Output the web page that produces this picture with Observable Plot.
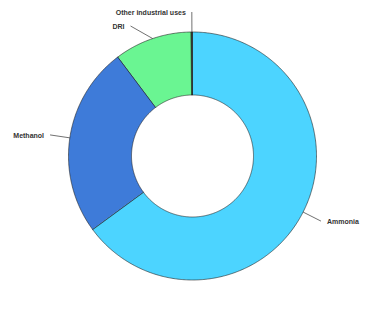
<!DOCTYPE html>
<html>
<head>
<meta charset="utf-8">
<script src="https://cdn.jsdelivr.net/npm/d3@7"></script>
<script src="https://cdn.jsdelivr.net/npm/@observablehq/plot@0.6"></script>
<style>
  html, body { margin: 0; padding: 0; background: #fff; }
  #chart { width: 376px; height: 314px; overflow: hidden; }
</style>
</head>
<body>
<div id="chart"></div>
<script>
// Data
const categories = ["Ammonia", "Methanol", "DRI", "Other industrial uses"];
const shares = [64.9, 24.8, 10.1, 0.15];
const colors = ["#4cd4ff", "#3e7bd9", "#6af592", "#1a1a1a"];

// Layout (pixels)
const W = 376, H = 314, CX = 192, CY = 155.5, R = 124;
const innerR = 61 / R;      // inner radius as fraction of outer
const labelR = 144 / R;     // end of leader lines
const minGap = 14 / R;      // min vertical gap between labels on same side

const rows = categories.map((name, i) => ({name, value: shares[i], color: colors[i]}));
const arcs = d3.pie().sort(null).value(d => d.value)(rows);

// Build ring polygons in unit coordinates
const poly = [];
arcs.forEach(a => {
  const n = Math.max(2, Math.ceil((a.endAngle - a.startAngle) / 0.01));
  for (let k = 0; k <= n; k++) {
    const t = a.startAngle + (a.endAngle - a.startAngle) * k / n;
    poly.push({name: a.data.name, x: Math.sin(t), y: Math.cos(t)});
  }
  for (let k = n; k >= 0; k--) {
    const t = a.startAngle + (a.endAngle - a.startAngle) * k / n;
    poly.push({name: a.data.name, x: innerR * Math.sin(t), y: innerR * Math.cos(t)});
  }
});

// Labels with simple collision avoidance per side
const labels = arcs.map(a => {
  const m = (a.startAngle + a.endAngle) / 2;
  return {
    name: a.data.name,
    x1: Math.sin(m), y1: Math.cos(m),
    x2: labelR * Math.sin(m), y2: labelR * Math.cos(m),
    side: Math.sin(m) < 0 ? "left" : "right"
  };
});
["left", "right"].forEach(side => {
  const group = labels.filter(l => l.side === side).sort((a, b) => b.y2 - a.y2);
  for (let i = 1; i < group.length; i++) {
    if (group[i - 1].y2 - group[i].y2 < minGap) {
      group[i].y2 = group[i - 1].y2 - minGap;
      const xx = Math.sqrt(Math.max(0, labelR * labelR - group[i].y2 * group[i].y2));
      group[i].x2 = side === "left" ? -xx : xx;
    }
  }
});

const chart = Plot.plot({
  width: W,
  height: H,
  margin: 0,
  x: {domain: [-CX / R, (W - CX) / R], axis: null},
  y: {domain: [-(H - CY) / R, CY / R], axis: null},
  color: {domain: categories, range: colors},
  style: {fontFamily: "'Liberation Sans', Arial, sans-serif", background: "#fff"},
  marks: [
    Plot.line(poly, {x: "x", y: "y", z: "name", fill: "name", stroke: "#222", strokeWidth: 0.6, curve: "linear-closed"}),
    Plot.link(labels, {x1: "x1", y1: "y1", x2: "x2", y2: "y2", stroke: "#333", strokeWidth: 0.7}),
    Plot.text(labels.filter(l => l.side === "right"), {x: "x2", y: "y2", text: "name", textAnchor: "start", dx: 6, dy: 1, fill: "#333", fontSize: 7, fontWeight: "bold"}),
    Plot.text(labels.filter(l => l.side === "left"), {x: "x2", y: "y2", text: "name", textAnchor: "end", dx: -6, dy: 1, fill: "#333", fontSize: 7, fontWeight: "bold"})
  ]
});
document.getElementById("chart").appendChild(chart);
</script>
</body>
</html>
